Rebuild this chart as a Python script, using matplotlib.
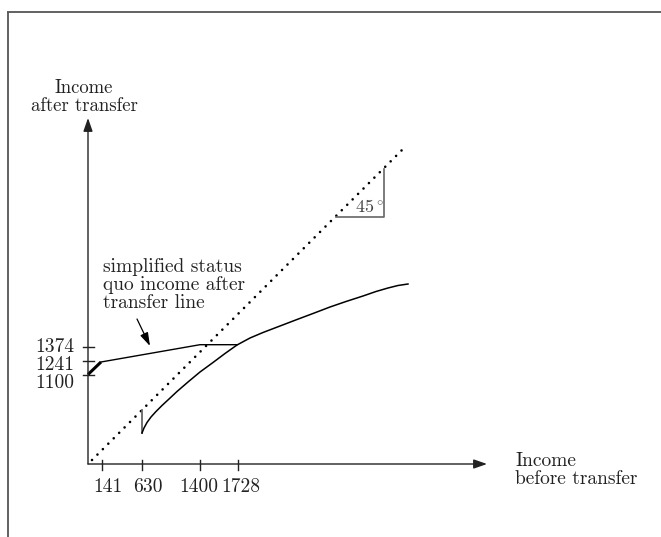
import matplotlib
matplotlib.use("Agg")
import matplotlib.pyplot as plt

plt.rcParams['font.family'] = ['cmr10', 'DejaVu Serif']
plt.rcParams['mathtext.fontset'] = 'cm'
plt.rcParams['axes.unicode_minus'] = False

# schematic diagram units (not to scale, as in the original sketch)
x_tick_labels = ['141', '630', '1400', '1728']
x_tick_pos = [14, 54, 112, 150]
y_tick_labels = ['1374', '1241', '1100']
y_tick_pos = [116.7, 103, 89.5]

# 45 degree reference line (income after = income before)
diag_x = [4, 315]
diag_y = [4, 315]

# simplified status quo income after transfer line
sq_x = [0, 13, 112, 149]
sq_y = [89.5, 102, 119.3, 119.3]

# income after transfer under the new scheme
curve_x = [54, 56, 59, 63, 68, 74, 81, 89, 100, 112, 125, 137, 149, 162, 175,
           192, 209, 225, 242, 258, 275, 288, 300, 310, 320]
curve_y = [31, 36, 41.5, 47, 52.5, 58.5, 65, 72.5, 82, 92, 101.5, 110.5, 119, 126, 131.5,
           138, 144.5, 150.5, 157, 162.5, 168, 172.5, 176, 178.5, 180]

ink = '#222222'
grey = '#666666'

fig = plt.figure(figsize=(6.61, 5.37), dpi=100)
ax = fig.add_axes([0, 0, 1, 1])
ax.set_xlim(-88, 573)
ax.set_ylim(-73, 464)
ax.axis('off')

# partial frame (top and left only)
ax.plot([-81, 573], [452, 452], color='#555555', lw=1.3, solid_capstyle='butt')
ax.plot([-80, -80], [452, -73], color='#555555', lw=1.3, solid_capstyle='butt')

# axes with arrow heads
arrow = dict(arrowstyle='-|>,head_length=0.8,head_width=0.28', color=ink, lw=1.0,
             shrinkA=0, shrinkB=0)
ax.annotate('', xy=(0, 346), xytext=(0, 0), arrowprops=arrow)
ax.annotate('', xy=(399, 0), xytext=(0, 0), arrowprops=arrow)

# ticks (labels sit slightly off-centre in the sketch)
x_label_shift = [6, 6, -1, 3]
for xp, dx, lab in zip(x_tick_pos, x_label_shift, x_tick_labels):
    ax.plot([xp, xp], [4, -6], color=ink, lw=1.0)
    ax.text(xp + dx, -23, lab, ha='center', va='center', fontsize=14, color=ink)
y_label_pos = [117, 99, 81]
for yp, ylab, lab in zip(y_tick_pos, y_label_pos, y_tick_labels):
    ax.plot([-5, 6], [yp, yp], color=ink, lw=1.0)
    ax.text(-14, ylab, lab, ha='right', va='center', fontsize=14, color=ink)

# 45 degree line
ax.plot(diag_x, diag_y, color='black', lw=1.9, linestyle=(0, (0.01, 2.9)),
        dash_capstyle='round')
ax.plot([248, 296, 296], [247, 247, 295], color=grey, lw=1.2)
ax.text(281, 257, r'$45^\circ$', ha='center', va='center', fontsize=13, color='#444444')

# status quo line
ax.plot(sq_x[:2], sq_y[:2], color='black', lw=2.2, solid_capstyle='butt')
ax.plot(sq_x[1:], sq_y[1:], color='black', lw=1.0)

# new scheme
ax.plot([curve_x[0], curve_x[0]], [curve_x[0], curve_y[0]], color=grey, lw=1.3)
ax.plot(curve_x, curve_y, color='black', lw=1.1)

# labels
ax.text(-4, 367, 'Income\nafter transfer', ha='center', va='center', fontsize=13.5,
        color=ink, linespacing=0.97)
ax.text(427, -6, 'Income\nbefore transfer', ha='left', va='center', fontsize=14,
        color=ink, linespacing=0.97)
ax.text(15, 179, 'simplified status\nquo income after\ntransfer line', ha='left',
        va='center', fontsize=14, color=ink, linespacing=1.0)
ax.annotate('', xy=(62, 118), xytext=(49, 145),
            arrowprops=dict(arrowstyle='-|>,head_length=0.8,head_width=0.25',
                            color='black', lw=0.9, shrinkA=0, shrinkB=0))

fig.savefig('out.png', dpi=100)
